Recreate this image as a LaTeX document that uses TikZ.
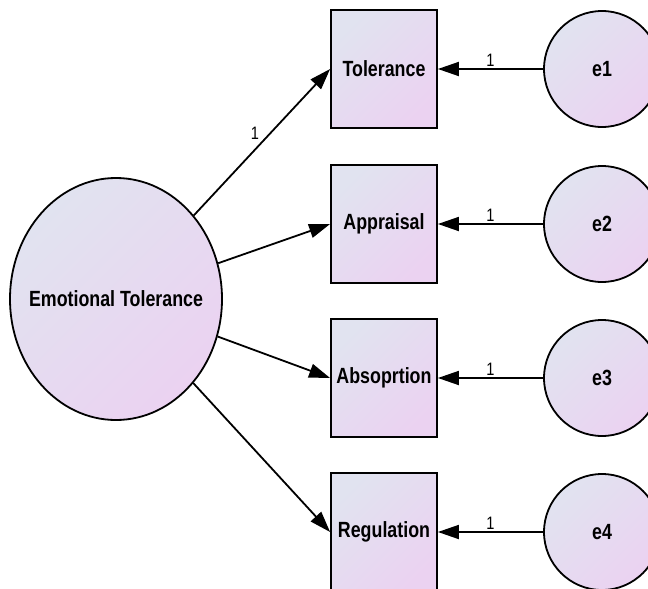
\documentclass[tikz,border=0pt]{standalone}
\usepackage{fontspec}
\setmainfont{Liberation Sans}[FakeStretch=0.81]
\usetikzlibrary{arrows.meta,shapes.geometric}
\definecolor{semgrey}{HTML}{E1E3F0}
\definecolor{sempink}{HTML}{EBD2F1}
\tikzset{
  semfill/.style={draw=black, line width=1.8pt, top color=semgrey, bottom color=sempink, shading angle=45},
  latent/.style={semfill, ellipse, minimum width=212pt, minimum height=242pt, inner xsep=-30pt, inner ysep=0pt, font=\bfseries\fontsize{22}{24}\selectfont},
  obsbox/.style={semfill, rectangle, minimum width=106pt, minimum height=118pt, inner sep=0pt, font=\bfseries\fontsize{22}{24}\selectfont},
  errcirc/.style={semfill, circle, minimum size=116pt, inner sep=0pt, font=\bfseries\fontsize{22}{24}\selectfont},
  regarrow/.style={-{Triangle[length=21pt,width=14pt]}, line width=1.8pt},
  wt/.style={font=\fontsize{18}{20}\selectfont, inner sep=2pt}
}
\begin{document}
\begin{tikzpicture}[x=1pt, y=-1pt]
    % Cornice
    \clip (0,0) rectangle (648,589);

    % Variabile latente
    \node[latent] (et) at (116,299) {Emotional Tolerance};

    % Indicatori
    \node[obsbox] (tol) at (384,69) {Tolerance};
    \node[obsbox] (app) at (384,224) {Appraisal};
    \node[obsbox] (abs) at (384,378) {Absoprtion};
    \node[obsbox] (reg) at (384,532) {Regulation};

    % Errori
    \node[errcirc] (e1) at (602,69) {e1};
    \node[errcirc] (e2) at (602,224) {e2};
    \node[errcirc] (e3) at (602,378) {e3};
    \node[errcirc] (e4) at (602,532) {e4};

    % Pesi fattoriali
    \draw[regarrow] (et) -- (tol.west) node[wt, pos=0.5, above left] (wtol) {1};
    \draw[regarrow] (et) -- (app.west);
    \draw[regarrow] (et) -- (abs.west);
    \draw[regarrow] (et) -- (reg.west);

    % Errori -> indicatori
    \draw[regarrow] (e1) -- (tol) node[wt, midway, above] (we1) {1};
    \draw[regarrow] (e2) -- (app) node[wt, midway, above] (we2) {1};
    \draw[regarrow] (e3) -- (abs) node[wt, midway, above] (we3) {1};
    \draw[regarrow] (e4) -- (reg) node[wt, midway, above] (we4) {1};
\end{tikzpicture}
\end{document}
